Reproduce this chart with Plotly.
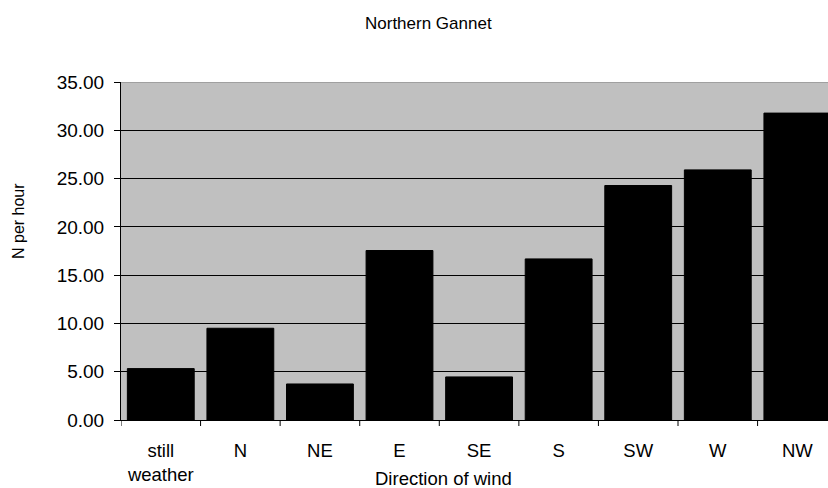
import plotly.graph_objects as go

categories = ["still<br>weather", "N", "NE", "E", "SE", "S", "SW", "W", "NW"]
values = [5.32, 9.50, 3.73, 17.55, 4.46, 16.68, 24.28, 25.90, 31.78]
y_ticks = [0, 5, 10, 15, 20, 25, 30, 35]
y_tick_labels = [f"{v:.2f}" for v in y_ticks]

FONT = "Liberation Sans, Arial, sans-serif"
L, T, B = 121, 82, 68
W, H = 828, 488
PW, PH = W - L, H - T - B

fig = go.Figure()
fig.add_trace(go.Bar(
    x=list(range(len(categories))), y=values,
    marker=dict(color="#000000", line=dict(color="#000000", width=1)),
    width=0.84,
))

fig.update_layout(
    width=W, height=H,
    margin=dict(l=L, r=0, t=T, b=B, autoexpand=False),
    paper_bgcolor="white",
    plot_bgcolor="#C0C0C0",
    showlegend=False,
    font=dict(family=FONT, color="black", size=19),
    xaxis=dict(
        tickmode="array", tickvals=list(range(len(categories))), ticktext=categories,
        range=[-0.5, 8.385],
        showgrid=False, showline=True, linecolor="black", linewidth=1,
        ticks="", zeroline=False, ticklabelstandoff=14,
        tickfont=dict(size=18.5, family=FONT),
    ),
    yaxis=dict(
        range=[0, 35], tickvals=y_ticks, ticktext=y_tick_labels,
        showgrid=True, gridcolor="black", gridwidth=1,
        showline=True, linecolor="black", linewidth=1,
        ticks="outside", ticklen=6, tickcolor="black",
        zeroline=False, ticklabelstandoff=6,
        tickfont=dict(size=19, family=FONT),
    ),
)

# category boundary ticks on x axis
for i in range(len(categories)):
    fig.add_shape(type="line", xref="x", yref="paper", x0=i - 0.5, x1=i - 0.5,
                  y0=0, y1=-6 / PH, line=dict(color="black", width=1))

# top border of plot area
fig.add_shape(type="line", xref="paper", yref="y", x0=0, x1=1, y0=35, y1=35,
              line=dict(color="#808080", width=1), layer="above")

fig.add_annotation(text="Northern Gannet", xref="paper", yref="paper",
                   x=(428 - L) / PW, y=1 + (T - 23) / PH, showarrow=False,
                   font=dict(size=17, family=FONT), xanchor="center", yanchor="middle")
fig.add_annotation(text="N per hour", xref="paper", yref="paper",
                   x=-(L - 18) / PW, y=(420 - 221) / PH, showarrow=False, textangle=-90,
                   font=dict(size=16, family=FONT), xanchor="center", yanchor="middle")
fig.add_annotation(text="Direction of wind", xref="paper", yref="paper",
                   x=(443 - L) / PW, y=-(478 - 420) / PH, showarrow=False,
                   font=dict(size=18.5, family=FONT), xanchor="center", yanchor="middle")

fig.write_html("out.html", config={"displayModeBar": False},
               post_script="document.body.style.margin='0';document.body.style.overflow='hidden';")
